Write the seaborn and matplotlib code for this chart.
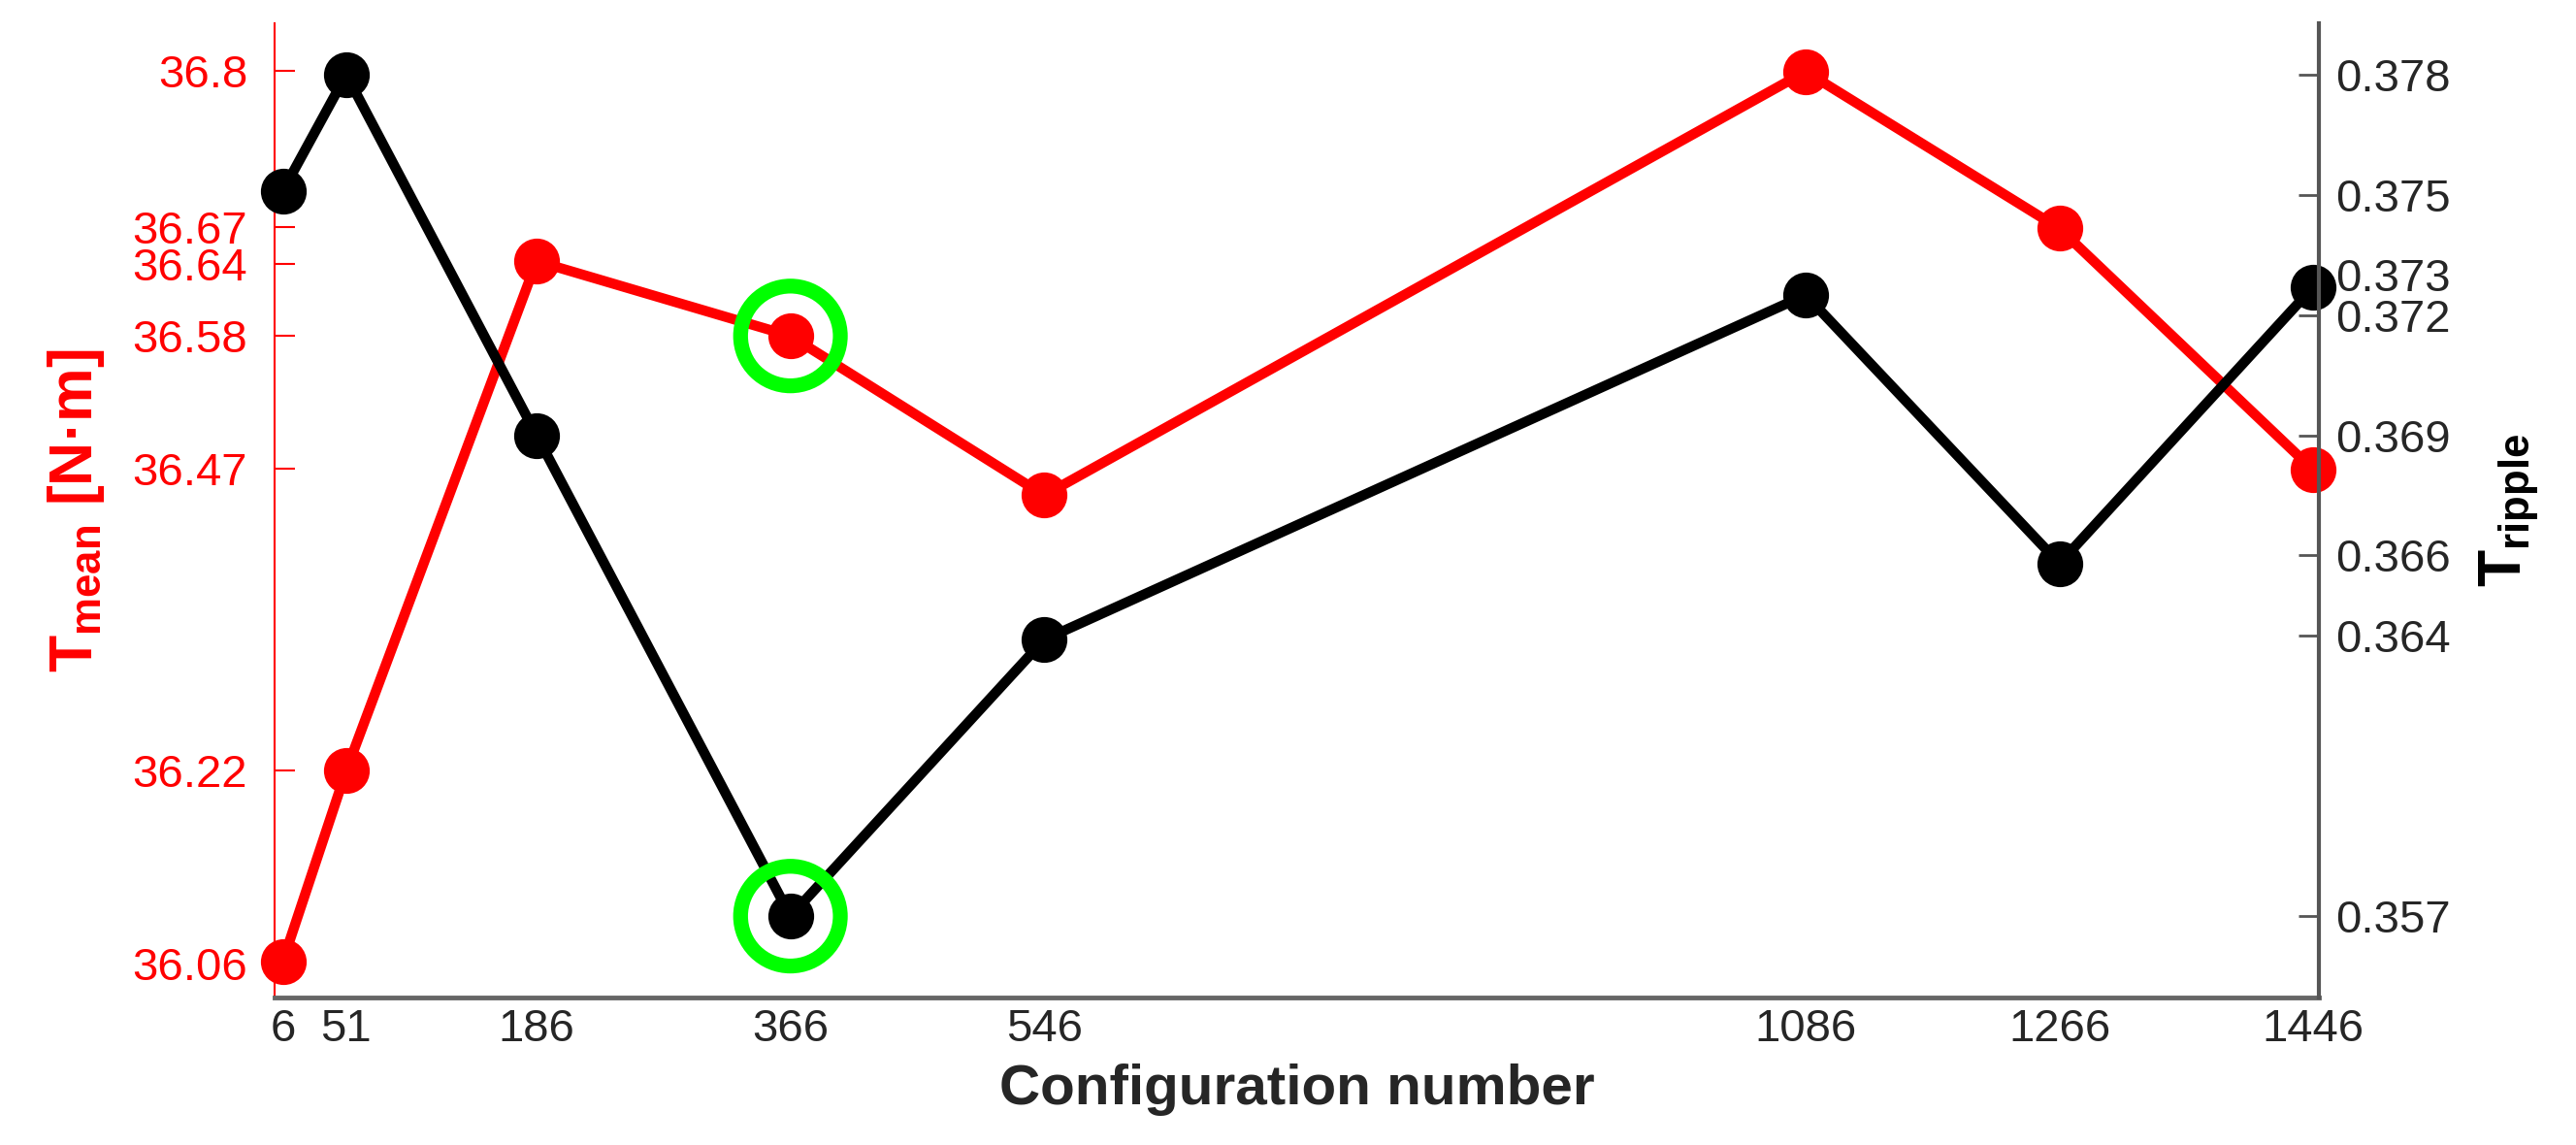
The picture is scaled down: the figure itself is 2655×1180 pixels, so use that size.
import numpy as np
import pandas as pd
import matplotlib.pyplot as plt
import seaborn as sns

# configurations and measured torque values
config = [6, 51, 186, 366, 546, 1086, 1266, 1446]
t_mean = [36.062, 36.22, 36.642, 36.58, 36.448, 36.799, 36.669, 36.469]
t_ripple = [0.3751, 0.3780, 0.3690, 0.3570, 0.3639, 0.3725, 0.3658, 0.3727]
mean_ticks = [36.06, 36.22, 36.47, 36.58, 36.64, 36.67, 36.8]
mean_labels = ["36.06", "36.22", "36.47", "36.58", "36.64", "36.67", "36.8"]
ripple_ticks = [0.357, 0.364, 0.366, 0.369, 0.372, 0.373, 0.375, 0.378]
ripple_labels = ["0.357", "0.364", "0.366", "0.369", "0.372", "0.373", "0.375", "0.378"]
best = 366

df = pd.DataFrame({"config": config, "t_mean": t_mean, "t_ripple": t_ripple})
sel = df[df["config"] == best]

sns.set_theme(style="white")
plt.rcParams["font.family"] = ["Liberation Sans", "DejaVu Sans"]
plt.rcParams["mathtext.fontset"] = "custom"
plt.rcParams["mathtext.rm"] = "Liberation Sans:bold"
plt.rcParams["mathtext.it"] = "Liberation Sans:bold"
plt.rcParams["mathtext.bf"] = "Liberation Sans:bold"

W, H = 2655, 1180
fig = plt.figure(figsize=(W / 100, H / 100), dpi=100)
ax = fig.add_axes([283 / W, 1 - 1028 / H, (2390 - 283) / W, (1028 - 24) / H])
ax2 = ax.twinx()

sns.lineplot(data=df, x="config", y="t_mean", ax=ax, color="red", lw=7.5,
             marker="o", markersize=34, markeredgewidth=0, clip_on=False)
sns.lineplot(data=df, x="config", y="t_ripple", ax=ax2, color="black", lw=7.5,
             marker="o", markersize=34, markeredgewidth=0, clip_on=False)

sns.scatterplot(data=sel, x="config", y="t_mean", ax=ax, s=74 ** 2,
                facecolor="none", edgecolor="#00ff00", linewidth=11, clip_on=False, zorder=5)
sns.scatterplot(data=sel, x="config", y="t_ripple", ax=ax2, s=74 ** 2,
                facecolor="none", edgecolor="#00ff00", linewidth=11, clip_on=False, zorder=5)

ax.set_xlim(0.15, 1450)
ax.set_ylim(36.032, 36.839)
ax2.set_ylim(0.35497, 0.37928)

ax.set_xticks(config)
ax.set_xticklabels([str(c) for c in config])
ax.set_yticks(mean_ticks)
ax.set_yticklabels(mean_labels)
ax2.set_yticks(ripple_ticks)
ax2.set_yticklabels(ripple_labels)

for s in ["top", "right"]:
    ax.spines[s].set_visible(False)
for s in ["top", "left", "bottom"]:
    ax2.spines[s].set_visible(False)
ax.spines["left"].set_color("red")
ax.spines["left"].set_linewidth(1.5)
ax.spines["bottom"].set_color("#666666")
ax.spines["bottom"].set_linewidth(3.5)
ax2.spines["right"].set_color("#555555")
ax2.spines["right"].set_linewidth(3)
ax2.spines["right"].set_zorder(10)

ax.tick_params(axis="y", direction="in", length=15, width=1.5, colors="red",
               labelsize=34, pad=20)
ax.tick_params(axis="x", direction="in", length=15, width=1.5, color="#555555",
               labelcolor="#262626", labelsize=34, pad=8)
ax2.tick_params(axis="y", direction="in", length=15, width=2, color="#555555",
                labelcolor="#262626", labelsize=34, pad=12)

ax.set_xlabel("Configuration number", fontsize=42, fontweight="bold",
              color="#262626", labelpad=9)
ax.set_ylabel("T$_{mean}$ [N·m]", fontsize=45, fontweight="bold", color="red")
ax.yaxis.set_label_coords(-0.0821, 0.5)
ax2.set_ylabel("T$_{ripple}$", fontsize=45, fontweight="bold", color="black")
ax2.yaxis.set_label_coords(1.0774, 0.5)

fig.savefig("out.png", dpi=100)
